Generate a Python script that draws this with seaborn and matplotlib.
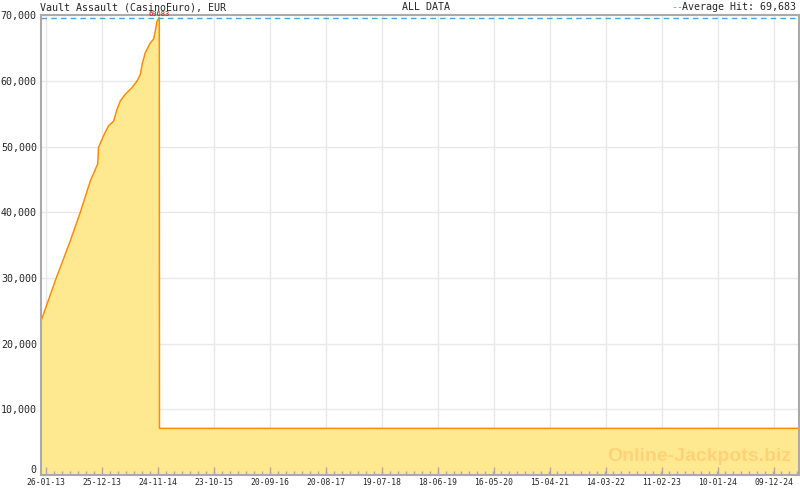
import pandas as pd
import seaborn as sns
import matplotlib.pyplot as plt
from matplotlib.ticker import AutoMinorLocator, FuncFormatter

# datos del jackpot
fechas = ["2012-12-26", "2013-03-20", "2013-06-18", "2013-08-16", "2013-10-15",
          "2013-11-28", "2013-12-03", "2014-01-02", "2014-02-01", "2014-03-03",
          "2014-03-23", "2014-04-12", "2014-05-11", "2014-06-20", "2014-07-20",
          "2014-08-09", "2014-08-19", "2014-09-07", "2014-10-07", "2014-10-27",
          "2014-11-06", "2014-11-16", "2014-11-30", "2014-12-01", "2025-05-08"]
valores = [23500, 29600, 35700, 40000, 44800,
           47400, 49900, 51700, 53200, 53900,
           55700, 57000, 58000, 59000, 60000,
           61000, 62500, 64300, 65800, 66400,
           67600, 69100, 69683, 7100, 7100]

promedio = 69683
etiquetas_x = ["26-01-13", "25-12-13", "24-11-14", "23-10-15", "20-09-16", "20-08-17",
               "19-07-18", "18-06-19", "16-05-20", "15-04-21", "14-03-22", "11-02-23",
               "10-01-24", "09-12-24"]
titulo = "Vault Assault (CasinoEuro), EUR"

df = pd.DataFrame({"fecha": pd.to_datetime(fechas), "valor": valores})
ticks = pd.to_datetime(etiquetas_x, format="%d-%m-%y")
yticks = list(range(0, 70001, 10000))

sns.set_style("white")
plt.rcParams["font.family"] = ["DejaVu Sans Mono"]

fig = plt.figure(figsize=(8, 4.9), dpi=100)
ax = fig.add_axes([41 / 800, 1 - 475 / 490, 758 / 800, (475 - 15.5) / 490])

# rejilla por debajo del relleno
for t in ticks:
    ax.axvline(t, color="#E8E8E8", linewidth=1, zorder=0.1)
for v in yticks:
    ax.axhline(v, color="#E8E8E8", linewidth=1, zorder=0.1)

ax.fill_between(df["fecha"], df["valor"], 0, color="#FFE990", linewidth=0, zorder=0.2)
sns.lineplot(data=df, x="fecha", y="valor", ax=ax, color="#FF8C00", linewidth=1.1, zorder=3)
ax.axhline(promedio, color="#4AA3DB", linestyle=(0, (4, 3)), linewidth=1, zorder=4)

ax.set_xlim(pd.Timestamp("2012-12-25"), pd.Timestamp("2025-05-08"))
ax.set_ylim(0, 70000)
ax.set_xticks(ticks)
ax.set_xticklabels(etiquetas_x)
ax.xaxis.set_minor_locator(AutoMinorLocator(7))
ax.set_yticks(yticks)
ax.yaxis.set_major_formatter(FuncFormatter(lambda v, p: f"{int(v):,}"))
ax.set_xlabel("")
ax.set_ylabel("")
ax.grid(False)

for s in ax.spines.values():
    s.set_color("#AAAAAA")
    s.set_linewidth(1.5)
    s.set_zorder(5)
ax.tick_params(axis="x", which="major", bottom=True, direction="in", length=5.5, width=1,
               color="#AAAAAA", labelsize=5.8, pad=2.5)
ax.tick_params(axis="x", which="minor", bottom=True, direction="in", length=3, width=1,
               color="#AAAAAA")
ax.tick_params(axis="y", length=0, labelsize=7.2, pad=3)
# el "0" un poco mas arriba, como en el original
ax.get_yticklabels()[0].set_va("bottom")

# marcador del premio
ax.text(pd.Timestamp("2014-11-26"), 70250, "69683", color="#DD0000", fontsize=5,
        ha="center", va="center", clip_on=False, zorder=6)

ax.text(0.99, 0.04, "Online-Jackpots.biz", transform=ax.transAxes, ha="right", va="center",
        fontsize=14, fontweight="bold", family="Liberation Sans", color="#FFD27A", zorder=2)

fig.text(40 / 800, 1 - 7.5 / 490, titulo, fontsize=7.2, ha="left", va="center")
fig.text(426 / 800, 1 - 7.5 / 490, "ALL DATA", fontsize=7.2, ha="center", va="center")
fig.text(796 / 800, 1 - 7.5 / 490, "Average Hit: 69,683", fontsize=7.2, ha="right", va="center")
fig.text(677 / 800, 1 - 7.5 / 490, "--", fontsize=7.2, ha="center", va="center", color="#4AA3DB")

fig.savefig("out.png", dpi=100)
